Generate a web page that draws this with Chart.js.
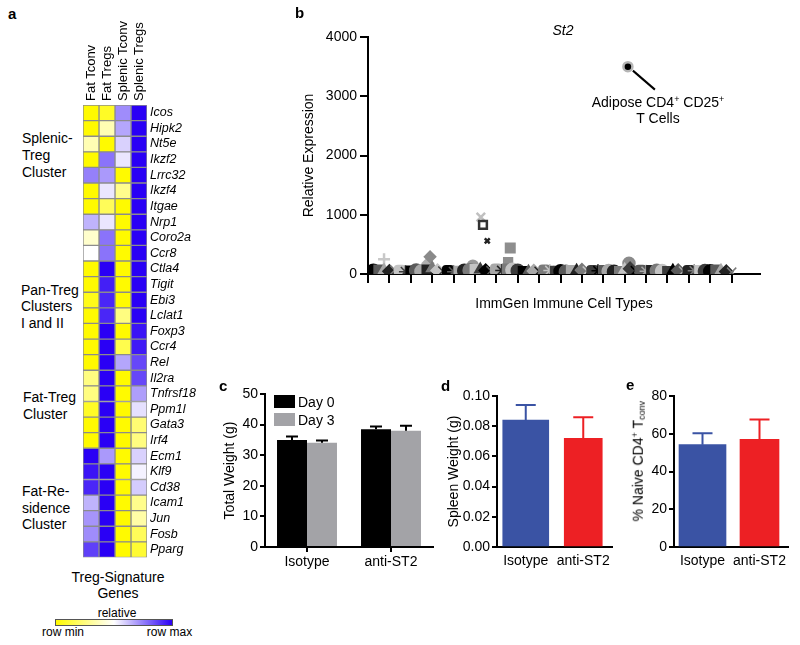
<!DOCTYPE html>
<html>
<head>
<meta charset="utf-8">
<script src="https://cdn.jsdelivr.net/npm/chart.js@4.4.1/dist/chart.umd.min.js"></script>
<style>
  body { margin: 0; background: #fff; }
  #fig { position: relative; width: 800px; height: 645px; overflow: hidden;
         font-family: "Liberation Sans", Arial, sans-serif; color: #000; }
  #fig canvas, #fig .t, #fig .box { position: absolute; }
  .t { white-space: nowrap; font-size: 14px; line-height: 16.5px; }
  .lett { font-weight: bold; font-size: 15px; line-height: 17px; }
  .c { text-align: center; }
  .col { font-size: 13px; line-height: 16px; transform-origin: 0 0; transform: rotate(-90deg); }
  sup { font-size: 9px; line-height: 0; vertical-align: 5px; }
  sub { font-size: 9px; line-height: 0; vertical-align: -2px; }
</style>
</head>
<body>
<div id="fig">
  <canvas id="heat" width="130" height="568" style="left:83px;top:0"></canvas>
  <canvas id="st2" width="480" height="300" style="left:290px;top:20px"></canvas>
  <canvas id="weight" width="250" height="200" style="left:190px;top:380px"></canvas>
  <canvas id="spleen" width="210" height="200" style="left:410px;top:380px"></canvas>
  <canvas id="naive" width="180" height="200" style="left:620px;top:380px"></canvas>

  <!-- panel letters -->
  <div class="t lett" style="left:8px;top:4.5px">a</div>
  <div class="t lett" style="left:295px;top:3.5px">b</div>
  <div class="t lett" style="left:219px;top:376.5px">c</div>
  <div class="t lett" style="left:441px;top:376.5px">d</div>
  <div class="t lett" style="left:626px;top:375.5px">e</div>

  <!-- panel a column headers -->
  <div class="t col" style="left:83px;top:101px">Fat Tconv</div>
  <div class="t col" style="left:99px;top:101px">Fat Tregs</div>
  <div class="t col" style="left:115px;top:101px">Splenic Tconv</div>
  <div class="t col" style="left:131px;top:101px">Splenic Tregs</div>

  <!-- panel a labels -->
  <div class="t" style="left:22px;top:130px;line-height:17px">Splenic-<br>Treg<br>Cluster</div>
  <div class="t" style="left:21px;top:281.5px">Pan-Treg<br>Clusters<br>I and II</div>
  <div class="t" style="left:23px;top:389px">Fat-Treg<br>Cluster</div>
  <div class="t" style="left:22px;top:483px">Fat-Re-<br>sidence<br>Cluster</div>
  <div class="t c" style="left:48px;top:568.75px;width:140px">Treg-Signature<br>Genes</div>
  <div class="t c" style="left:67px;top:606px;width:100px;font-size:12px;line-height:14px">relative</div>
  <div class="box" style="left:55px;top:619px;width:116px;height:5px;border:1px solid #555;
       background:linear-gradient(to right,#fffa00,#ffffff,#2a00f5)"></div>
  <div class="t c" style="left:23px;top:625px;width:80px;font-size:12px;line-height:14px">row min</div>
  <div class="t c" style="left:129.5px;top:625px;width:80px;font-size:12px;line-height:14px">row max</div>

  <!-- panel b labels -->
  <div class="t c" style="left:463px;top:21.75px;width:200px;font-style:italic">St2</div>
  <div class="t c" style="left:558px;top:93.75px;width:200px">Adipose CD4<sup>+</sup> CD25<sup>+</sup><br>T Cells</div>

  <!-- panel c legend -->
  <div class="box" style="left:274px;top:395px;width:21px;height:13px;background:#000"></div>
  <div class="t" style="left:298px;top:393.75px">Day 0</div>
  <div class="box" style="left:274px;top:413px;width:21px;height:13px;background:#a3a3a7"></div>
  <div class="t" style="left:298px;top:411.75px">Day 3</div>

  <!-- panel e y title -->
  <div class="t c" style="left:568px;top:452.75px;width:140px;transform:rotate(-90deg)">% Naive CD4<sup>+</sup> T<sub>conv</sub></div>
</div>

<script>
// ---- a: Treg signature heatmap (row scaled: -1 = row min, 1 = row max)
var genes = ['Icos', 'Hipk2', 'Nt5e', 'Ikzf2', 'Lrrc32', 'Ikzf4', 'Itgae', 'Nrp1', 'Coro2a', 'Ccr8',
             'Ctla4', 'Tigit', 'Ebi3', 'Lclat1', 'Foxp3', 'Ccr4', 'Rel', 'Il2ra', 'Tnfrsf18', 'Ppm1l',
             'Gata3', 'Irf4', 'Ecm1', 'Klf9', 'Cd38', 'Icam1', 'Jun', 'Fosb', 'Pparg'];
var heatCols = ['Fat Tconv', 'Fat Tregs', 'Splenic Tconv', 'Splenic Tregs'];
var fatTconv = [-1, -1, -0.3, -1, 0.5, -1, -1, 0.3, -0.2, 0,
                -1, -1, -0.9, -1, -1, -1, -1, -0.5, -0.5, -0.85,
                -1, -1, 1, 0.92, 0.85, 0.3, 0.42, 0.45, 0.75];
var fatTregs = [-0.85, -0.3, -1, 0.55, 0.4, 0.1, -0.65, 0.1, 0.55, 0.55,
                1, 0.88, 0.85, 0.85, 1, 1, 1, 1, 1, 1,
                1, 1, 0.4, 1, 1, 1, 1, 1, 1];
var splenicTconv = [0.45, 0.35, 0.18, 0.1, -1, -0.45, -1, -1, -1, -1,
                    -1, -1, -1, -0.5, -1, -0.7, 0.35, -1, -1, -1,
                    -1, -1, -1, -1, -1, -1, -1, -1, -1];
var splenicTregs = [1, 1, 1, 1, 1, 1, 1, 1, 1, 1,
                    1, 1, 1, 1, 0.92, 0.9, 0.72, 0.72, 0.38, 0.12,
                    -0.55, -0.5, 0.18, 0.05, 0.2, -0.45, -0.35, -0.65, -0.8];

// ---- b: St2 expression across ImmGen cell types
var cellTypeExpr = [55, 70, 60, 45, 65, 50, 40, 55, 60, 45,
                    70, 95, 60, 50, 45, 40, 50, 55, 65, 80,
                    75, 60, 55, 70, 60, 85, 70, 55, 45, 40,
                    50, 45, 55, 60, 50, 45, 40, 60, 55, 65,
                    50, 45, 55, 60, 50, 40, 45, 70, 90, 55,
                    50, 45, 60, 55, 50, 45, 55, 60, 50, 45,
                    55, 60, 50, 45, 70, 55, 40, 30];
var outlierX = [3.0, 11.2, 11.6, 19.6, 21.1, 21.5, 22.3, 26.2, 26.6, 48.8];
var outlierY = [250, 180, 290, 140, 960, 830, 560, 200, 440, 180];
var adiposeX = [48.6];
var adiposeY = [3500];

// ---- c, d, e
var groups = ['Isotype', 'anti-ST2'];
var day0 = [35.0, 38.5];
var day0Err = [1.1, 0.9];
var day3 = [34.1, 38.0];
var day3Err = [0.7, 1.6];
var spleenW = [0.084, 0.072];
var spleenErr = [0.010, 0.014];
var naivePct = [54.2, 57.0];
var naiveErr = [6.0, 10.6];

Chart.defaults.font.family = '"Liberation Sans", Arial, sans-serif';
Chart.defaults.color = '#000';
Chart.defaults.animation = false;
Chart.defaults.responsive = false;
Chart.defaults.devicePixelRatio = 1;
Chart.defaults.plugins.legend.display = false;
Chart.defaults.plugins.tooltip.enabled = false;

function heatColor(v) {
    if (v < 0) {
        var t = -v;
        return 'rgb(255,' + Math.round(255 - 5 * t) + ',' + Math.round(255 * (1 - t)) + ')';
    }
    return 'rgb(' + Math.round(255 - 213 * v) + ',' + Math.round(255 - 255 * v) + ',' + Math.round(255 - 10 * v) + ')';
}

var heatVals = [fatTconv, fatTregs, splenicTconv, splenicTregs];
new Chart(document.getElementById('heat'), {
    type: 'bar',
    data: {
        labels: genes,
        datasets: heatCols.map(function (name, c) {
            return {
                label: name,
                data: genes.map(function () { return 1; }),
                backgroundColor: function (ctx) { return heatColor(heatVals[c][ctx.dataIndex]); },
                borderColor: '#8c8c8c',
                borderWidth: 1,
                borderSkipped: false,
                barPercentage: 1,
                categoryPercentage: 1
            };
        })
    },
    options: {
        indexAxis: 'y',
        layout: { padding: { top: 105, bottom: 8, left: 0, right: 0 } },
        scales: {
            x: { type: 'linear', stacked: true, min: 0, max: 4, display: false },
            y: {
                stacked: true, position: 'right',
                grid: { display: false, drawTicks: false, tickLength: 0 }, border: { display: false },
                ticks: { autoSkip: false, padding: 3, font: { size: 12.5, style: 'italic' } },
                afterFit: function (s) { s.width = 66; }
            }
        }
    }
});

// ---- b scatter
var markerStyles = ['circle', 'rect', 'triangle', 'rectRot', 'crossRot', 'rectRounded', 'star', 'rect', 'circle'];
var markerColors = ['#000', '#5a5a5a', '#a8a8a8', '#222', '#7a7a7a', '#c4c4c4', '#3c3c3c'];
var outStyles = ['cross', 'rectRot', 'rectRot', 'circle', 'crossRot', 'rect', 'crossRot', 'rect', 'rect', 'circle'];
var outFill = ['#c8c8c8', '#b0b0b0', '#8a8a8a', '#9a9a9a', '#c0c0c0', '#fff', '#222', '#8e8e8e', '#8e8e8e', '#8a8a8a'];
var outLine = ['#c8c8c8', '#b0b0b0', '#8a8a8a', '#9a9a9a', '#c0c0c0', '#333', '#222', '#8e8e8e', '#8e8e8e', '#8a8a8a'];
var outRadius = [6, 5, 5, 5, 6, 5.5, 3.5, 5.5, 6, 5.5];

var adiposeLine = {
    id: 'adiposeLine',
    afterDatasetsDraw: function (chart) {
        var pt = chart.getDatasetMeta(2).data[0];
        var ctx = chart.ctx;
        ctx.save();
        ctx.strokeStyle = '#000';
        ctx.lineWidth = 2;
        ctx.beginPath();
        ctx.moveTo(pt.x + 5, pt.y + 4);
        ctx.lineTo(pt.x + 27, pt.y + 23);
        ctx.stroke();
        ctx.restore();
    }
};

new Chart(document.getElementById('st2'), {
    type: 'scatter',
    data: {
        datasets: [{
            data: cellTypeExpr.map(function (y, i) { return { x: i + 1, y: y }; }),
            pointStyle: function (ctx) { return markerStyles[ctx.dataIndex % markerStyles.length]; },
            backgroundColor: function (ctx) { return markerColors[ctx.dataIndex % markerColors.length]; },
            borderColor: function (ctx) { return markerColors[ctx.dataIndex % markerColors.length]; },
            borderWidth: 1.5,
            pointRadius: 6.5
        }, {
            data: outlierX.map(function (x, i) { return { x: x, y: outlierY[i] }; }),
            pointStyle: outStyles,
            backgroundColor: outFill,
            borderColor: outLine,
            borderWidth: 2.5,
            pointRadius: outRadius
        }, {
            data: adiposeX.map(function (x, i) { return { x: x, y: adiposeY[i] }; }),
            pointStyle: 'circle',
            backgroundColor: '#000',
            borderColor: '#b5b5b5',
            borderWidth: 2.5,
            pointRadius: 4.5
        }]
    },
    options: {
        layout: { padding: { top: 17, right: 10, left: 0, bottom: 0 } },
        scales: {
            x: {
                type: 'linear', min: 0, max: 73.3,
                ticks: { display: false, stepSize: 4 },
                afterBuildTicks: function (s) { s.ticks = s.ticks.filter(function (t) { return t.value <= 68; }); },
                grid: { drawOnChartArea: false, tickLength: 9, lineWidth: 2, color: '#000' },
                border: { color: '#000', width: 2 },
                title: { display: true, text: 'ImmGen Immune Cell Types', font: { size: 14 }, padding: { top: 0, bottom: 7.6 } },
                afterFit: function (s) { s.height = 46; }
            },
            y: {
                min: 0, max: 4000,
                ticks: { stepSize: 1000, padding: 3, font: { size: 14 }, callback: function (v) { return String(v); } },
                grid: { drawOnChartArea: false, tickLength: 8, lineWidth: 2, color: '#000' },
                border: { color: '#000', width: 2 },
                title: { display: true, text: 'Relative Expression', font: { size: 14 }, padding: { top: 10.6, bottom: 0 } },
                afterFit: function (s) { s.width = 78; }
            }
        }
    },
    plugins: [adiposeLine]
});

// ---- c, d, e bars with upward error bars
var errorBars = {
    id: 'errorBars',
    afterDatasetsDraw: function (chart) {
        var ctx = chart.ctx, y = chart.scales.y;
        chart.data.datasets.forEach(function (ds, i) {
            if (!ds.errors) return;
            chart.getDatasetMeta(i).data.forEach(function (bar, j) {
                var v = ds.data[j];
                if (v == null) return;
                var top = y.getPixelForValue(v + ds.errors[j]);
                ctx.save();
                ctx.strokeStyle = ds.errorColor;
                ctx.lineWidth = 2;
                ctx.beginPath();
                ctx.moveTo(bar.x, bar.y);
                ctx.lineTo(bar.x, top);
                ctx.moveTo(bar.x - ds.cap, top);
                ctx.lineTo(bar.x + ds.cap, top);
                ctx.stroke();
                ctx.restore();
            });
        });
    }
};

function barChart(id, cfg) {
    return new Chart(document.getElementById(id), {
        type: 'bar',
        data: { labels: groups, datasets: cfg.datasets },
        options: {
            layout: { padding: cfg.padding },
            scales: {
                x: {
                    grid: { drawOnChartArea: false, drawTicks: cfg.xTicks, offset: false, tickLength: 5, lineWidth: 2, color: '#000' },
                    border: { color: '#000', width: 2 },
                    ticks: { font: { size: 14 }, padding: cfg.xPad, maxRotation: 0, autoSkip: false },
                    afterFit: function (s) { s.height = 33; }
                },
                y: {
                    min: 0, max: cfg.max,
                    ticks: { stepSize: cfg.step, padding: 2, font: { size: 14 }, callback: cfg.fmt },
                    grid: { drawOnChartArea: false, tickLength: 5, lineWidth: 2, color: '#000' },
                    border: { color: '#000', width: 2 },
                    title: { display: !!cfg.title, text: cfg.title, font: { size: 14 }, padding: { top: cfg.titlePad, bottom: 0 } },
                    afterFit: function (s) { s.width = cfg.yWidth; }
                }
            }
        },
        plugins: [errorBars]
    });
}

barChart('weight', {
    padding: { top: 14, right: 7, left: 0, bottom: 0 },
    max: 50, step: 10, fmt: function (v) { return String(v); },
    title: 'Total Weight (g)', titlePad: 31.6, yWidth: 75, xTicks: true, xPad: 2,
    datasets: [
        { label: 'Day 0', data: day0, errors: day0Err, backgroundColor: '#000', errorColor: '#000', cap: 6,
          barPercentage: 1, categoryPercentage: 0.714 },
        { label: 'Day 3', data: day3, errors: day3Err, backgroundColor: '#a3a3a7', errorColor: '#000', cap: 6,
          barPercentage: 1, categoryPercentage: 0.714 }
    ]
});

barChart('spleen', {
    padding: { top: 16, right: 8, left: 0, bottom: 0 },
    max: 0.1, step: 0.02, fmt: function (v) { return v.toFixed(2); },
    title: 'Spleen Weight (g)', titlePad: 35.6, yWidth: 87, xTicks: false, xPad: 6,
    datasets: [
        { data: [spleenW[0], null], errors: [spleenErr[0], null], backgroundColor: '#3a53a4', errorColor: '#3a53a4',
          cap: 10, barThickness: 46, grouped: false },
        { data: [null, spleenW[1]], errors: [null, spleenErr[1]], backgroundColor: '#ed2024', errorColor: '#ed2024',
          cap: 10, barThickness: 38, grouped: false }
    ]
});

barChart('naive', {
    padding: { top: 16, right: 12, left: 0, bottom: 0 },
    max: 80, step: 20, fmt: function (v) { return String(v); },
    title: '', titlePad: 0, yWidth: 54, xTicks: false, xPad: 6,
    datasets: [
        { data: [naivePct[0], null], errors: [naiveErr[0], null], backgroundColor: '#3a53a4', errorColor: '#3a53a4',
          cap: 10, barThickness: 47, grouped: false },
        { data: [null, naivePct[1]], errors: [null, naiveErr[1]], backgroundColor: '#ed2024', errorColor: '#ed2024',
          cap: 10, barThickness: 39, grouped: false }
    ]
});
</script>
</body>
</html>
